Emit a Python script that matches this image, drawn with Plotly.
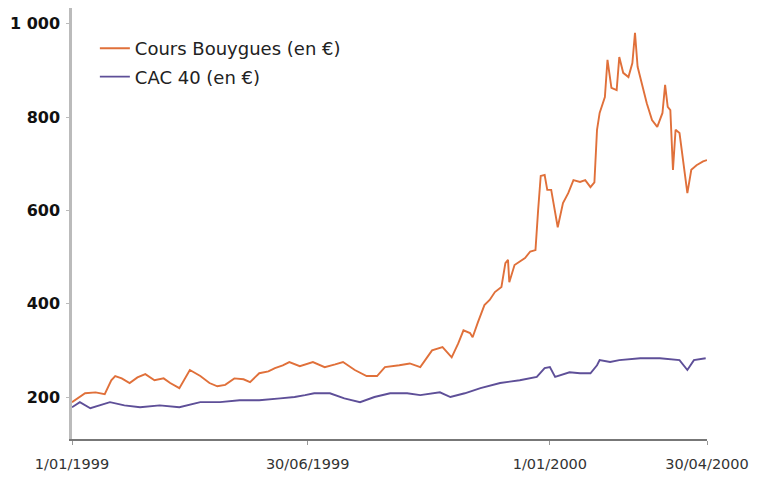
import plotly.graph_objects as go

# Cours Bouygues (en €)
bouygues_dates = [
    "1999-01-01", "1999-01-11", "1999-01-19", "1999-01-26", "1999-01-31", "1999-02-03",
    "1999-02-08", "1999-02-14", "1999-02-20", "1999-02-26", "1999-03-05", "1999-03-12",
    "1999-03-17", "1999-03-24", "1999-04-01", "1999-04-09", "1999-04-16", "1999-04-22",
    "1999-04-28", "1999-05-05", "1999-05-12", "1999-05-17", "1999-05-24", "1999-05-31",
    "1999-06-05", "1999-06-11", "1999-06-16", "1999-06-24", "1999-07-04", "1999-07-13",
    "1999-07-21", "1999-07-27", "1999-08-05", "1999-08-14", "1999-08-22", "1999-08-28",
    "1999-09-08", "1999-09-16", "1999-09-24", "1999-09-28", "1999-10-03", "1999-10-11",
    "1999-10-15", "1999-10-18", "1999-10-23", "1999-10-27", "1999-11-01", "1999-11-03",
    "1999-11-07", "1999-11-12", "1999-11-16", "1999-11-20", "1999-11-25", "1999-11-28",
    "1999-11-30", "1999-12-01", "1999-12-05", "1999-12-13", "1999-12-17", "1999-12-21",
    "1999-12-23", "1999-12-25", "1999-12-28", "1999-12-30", "2000-01-02", "2000-01-07",
    "2000-01-11", "2000-01-15", "2000-01-19", "2000-01-24", "2000-01-28", "2000-02-01",
    "2000-02-04", "2000-02-06", "2000-02-08", "2000-02-12", "2000-02-14", "2000-02-17",
    "2000-02-21", "2000-02-23", "2000-02-26", "2000-03-01", "2000-03-04", "2000-03-06",
    "2000-03-08", "2000-03-11", "2000-03-15", "2000-03-19", "2000-03-23", "2000-03-27",
    "2000-03-29", "2000-03-31", "2000-04-02", "2000-04-04", "2000-04-06", "2000-04-09",
    "2000-04-12", "2000-04-15", "2000-04-18", "2000-04-22", "2000-04-27", "2000-04-30",
]
bouygues_values = [
    189, 208, 210, 206, 236, 245,
    240, 230, 242, 249, 236, 240,
    230, 219, 258, 245, 230, 223,
    226, 240, 238, 232, 251, 255,
    262, 268, 275, 266, 275, 264,
    270, 275, 258, 245, 245, 264,
    268, 272, 264, 279, 300, 307,
    294, 285, 315, 343, 337, 328,
    360, 397, 408, 425, 436, 487,
    494, 446, 483, 498, 512, 515,
    600, 674, 676, 644, 644, 564,
    616, 637, 665, 661, 665, 650,
    660, 773, 809, 843, 923, 863,
    858, 929, 895, 886, 916, 981,
    908, 873, 830, 794, 779, 809,
    869, 822, 815, 687, 773, 766,
    702, 637, 687, 697, 705, 708,
]

# CAC 40 (en €)
cac_dates = [
    "1999-01-01", "1999-01-07", "1999-01-15", "1999-01-22", "1999-01-30", "1999-02-10",
    "1999-02-22", "1999-03-09", "1999-03-24", "1999-04-09", "1999-04-24", "1999-05-09",
    "1999-05-24", "1999-06-09", "1999-06-20", "1999-06-28", "1999-07-05", "1999-07-17",
    "1999-07-28", "1999-08-09", "1999-08-20", "1999-09-01", "1999-09-14", "1999-09-24",
    "1999-10-09", "1999-10-17", "1999-10-28", "1999-11-09", "1999-11-24", "1999-12-09",
    "1999-12-22", "1999-12-28", "2000-01-01", "2000-01-05", "2000-01-09", "2000-01-16",
    "2000-01-24", "2000-02-01", "2000-02-06", "2000-02-08", "2000-02-16", "2000-02-23",
    "2000-03-10", "2000-03-25", "2000-04-09", "2000-04-15", "2000-04-20", "2000-04-29",
]
cac_values = [
    178, 189, 176, 182, 189, 182,
    178, 182, 178, 189, 189, 193,
    193, 197, 200, 204, 208, 208,
    197, 189, 200, 208, 208, 204,
    210, 200, 208, 219, 230, 236,
    243, 262, 264, 243, 247, 253,
    251, 251, 268, 279, 275, 279,
    283, 283, 279, 258, 279, 283,
]

y_tickvals = [200, 400, 600, 800, 1000]
y_ticktext = ["200", "400", "600", "800", "1 000"]
x_tickvals = ["1999-01-01", "1999-06-30", "2000-01-01", "2000-04-30"]
x_ticktext = ["1/01/1999", "30/06/1999", "1/01/2000", "30/04/2000"]

fig = go.Figure()
fig.add_trace(go.Scatter(
    x=bouygues_dates, y=bouygues_values, mode="lines",
    name="Cours Bouygues (en €)", legendgroup="a",
    line=dict(color="#E0703A", width=1.9),
))
fig.add_trace(go.Scatter(
    x=cac_dates, y=cac_values, mode="lines",
    name="CAC 40 (en €)", legendgroup="b",
    line=dict(color="#5E4F98", width=1.9),
))

fig.update_layout(
    width=755, height=469,
    margin=dict(l=64, r=56, t=0, b=38),
    paper_bgcolor="white", plot_bgcolor="white",
    font=dict(family="DejaVu Sans, sans-serif", color="#222"),
    showlegend=True,
    legend=dict(
        x=0.036, y=0.949, xanchor="left", yanchor="top",
        font=dict(size=18, color="#222"),
        bgcolor="rgba(255,255,255,0)",
        tracegroupgap=2, itemwidth=30,
    ),
    xaxis=dict(
        type="date", automargin=False,
        range=["1999-01-01", "2000-04-30"],
        tickvals=x_tickvals, ticktext=x_ticktext,
        showgrid=False, zeroline=False,
        showline=True, linecolor="#777", linewidth=1.5,
        ticks="outside", ticklen=4, tickcolor="#999",
        ticklabelstandoff=7,
        tickfont=dict(size=14.5, color="#333"),
    ),
    yaxis=dict(
        automargin=False,
        range=[110, 1034],
        tickvals=y_tickvals, ticktext=y_ticktext,
        showgrid=False, zeroline=False,
        showline=True, linecolor="#bbb", linewidth=2.5,
        ticks="outside", ticklen=3, tickcolor="#bbb",
        ticklabelstandoff=3,
        tickfont=dict(size=16, color="#111", weight="bold"),
    ),
)

fig.write_html("out.html")
